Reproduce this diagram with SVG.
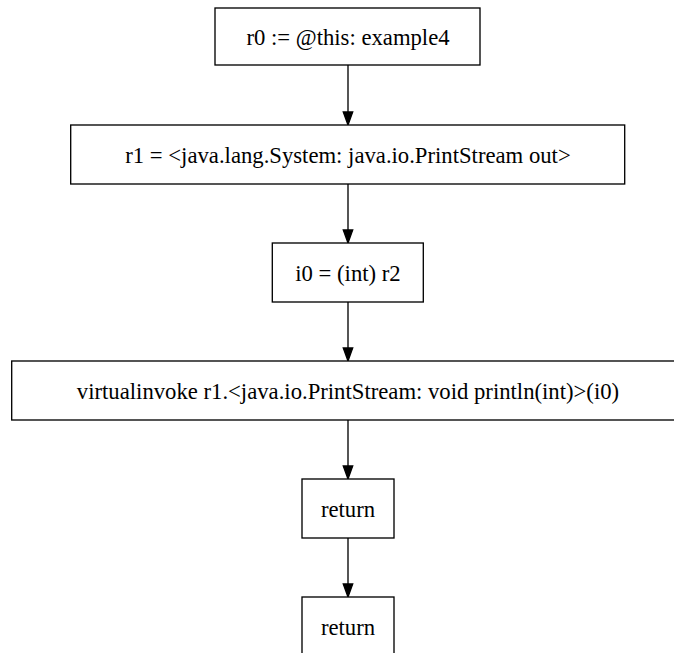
<svg xmlns="http://www.w3.org/2000/svg" width="674" height="653" viewBox="0 0 674 653">
  <style>
    .node rect { fill: #ffffff; stroke: #000000; stroke-width: 1.33; }
    .node text { font-family: "Liberation Serif", "Times New Roman", serif; font-size: 22.7px; fill: #000000; text-anchor: middle; }
    .edge line { stroke: #000000; stroke-width: 1.33; }
    .edge polygon { fill: #000000; stroke: #000000; stroke-width: 1.33; }
  </style>
  <rect x="0" y="0" width="674" height="653" fill="#ffffff"/>

  <!-- control-flow edges -->
  <g id="edges" class="edge">
    <line x1="348" y1="65" x2="348" y2="112"/>
    <polygon points="343.3,112 348,125 352.7,112"/>
    <line x1="348" y1="184" x2="348" y2="230"/>
    <polygon points="343.3,230 348,243 352.7,230"/>
    <line x1="348" y1="302" x2="348" y2="348"/>
    <polygon points="343.3,348 348,361 352.7,348"/>
    <line x1="348" y1="420" x2="348" y2="466"/>
    <polygon points="343.3,466 348,479 352.7,466"/>
    <line x1="348" y1="538" x2="348" y2="584"/>
    <polygon points="343.3,584 348,597 352.7,584"/>
  </g>

  <g id="n0" class="node">
    <rect x="215" y="8" width="265" height="57"/>
    <text x="348" y="44.5">r0 := @this: example4</text>
  </g>
  <g id="n1" class="node">
    <rect x="70.7" y="125" width="554" height="59"/>
    <text x="348" y="162.5">r1 = &lt;java.lang.System: java.io.PrintStream out&gt;</text>
  </g>
  <g id="n2" class="node">
    <rect x="272.3" y="243" width="151" height="59"/>
    <text x="348" y="280.5">i0 = (int) r2</text>
  </g>
  <g id="n3" class="node">
    <rect x="11.7" y="361" width="672.6" height="59"/>
    <text x="348" y="398.5">virtualinvoke r1.&lt;java.io.PrintStream: void println(int)&gt;(i0)</text>
  </g>
  <g id="n4" class="node">
    <rect x="302" y="479" width="92" height="59"/>
    <text x="348" y="516.5">return</text>
  </g>
  <g id="n5" class="node">
    <rect x="302" y="597" width="92" height="59"/>
    <text x="348" y="634.5">return</text>
  </g>
</svg>
